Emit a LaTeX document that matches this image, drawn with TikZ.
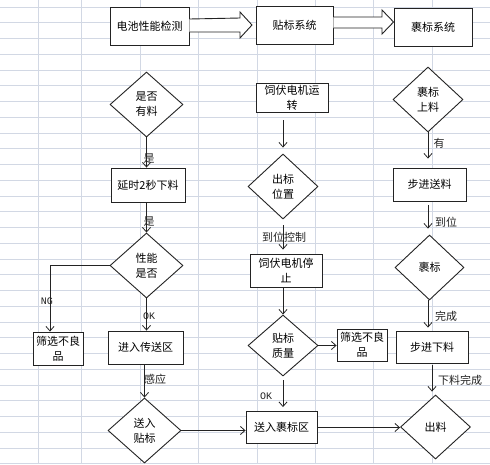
\documentclass[tikz,border=0pt]{standalone}
\usepackage{fontspec}
\setmainfont{Noto Sans CJK SC}
\newfontfamily\latinmono{Liberation Mono}
\usetikzlibrary{shapes.geometric,arrows.meta,calc}
\definecolor{ln}{RGB}{35,35,35}
\definecolor{gridc}{RGB}{210,216,228}
\begin{document}
\begin{tikzpicture}[x=1pt,y=-1pt,
  every node/.style={font=\fontsize{11}{15}\selectfont},
  box/.style={draw=ln, fill=white, line width=0.9pt, inner sep=0pt, align=center},
  dia/.style={diamond, draw=ln, fill=white, line width=0.9pt, inner sep=0pt, align=center},
  arr/.style={draw=ln, line width=0.8pt, -{Straight Barb[length=4.5pt,width=8pt]}},
  lbl/.style={inner sep=0pt, text=ln},
  mono/.style={inner sep=0pt, text=ln, font=\latinmono\fontsize{10}{12}\selectfont},
  blk/.style={draw=ln, fill=white, line width=0.9pt, line join=miter},
  gl/.style={draw=gridc, line width=0.8pt}
]
\useasboundingbox (0,0) rectangle (490,464);
\fill[white] (0,0) rectangle (490,464);
% spreadsheet grid
\foreach \x in {38,81,140,198,257,315,373,432} \draw[gl] (\x,0) -- (\x,464);
\foreach \k in {0,...,29} \draw[gl] (0,{7+15.75*\k}) -- (490,{7+15.75*\k});

% top row
\node[box, minimum width=79pt, minimum height=38pt] (b1) at (149.5,26) {电池性能检测};
\node[box, minimum width=77pt, minimum height=38pt] (b2) at (294.5,25) {贴标系统};
\node[box, minimum width=78pt, minimum height=38pt] (b3) at (433,27) {裹标系统};

% column 1
\node[dia, minimum width=73pt, minimum height=65pt] (d1) at (146.5,104.5) {是否\\有料};
\node[box, minimum width=74pt, minimum height=34pt] (b4) at (148,185) {延时2秒下料};
\node[dia, minimum width=73pt, minimum height=65pt] (d2) at (146.5,265.5) {性能\\是否};
\node[box, minimum width=50pt, minimum height=33pt] (b5) at (58,348.5) {筛选不良\\品};
\node[box, minimum width=75pt, minimum height=33pt] (b6) at (145.5,347.5) {进入传送区};
\node[dia, minimum width=73pt, minimum height=65pt] (d3) at (144.5,430.5) {送入\\贴标};

% column 2
\node[box, minimum width=72pt, minimum height=29pt] (b7) at (292,97.5) {饲伏电机运\\转};
\node[dia, minimum width=70pt, minimum height=65pt] (d4) at (283,186.5) {出标\\位置};
\node[box, minimum width=72pt, minimum height=33pt] (b8) at (286,270.5) {饲伏电机停\\止};
\node[dia, minimum width=70pt, minimum height=61pt] (d5) at (283,345.5) {贴标\\质量};
\node[box, minimum width=50pt, minimum height=32pt] (b9) at (362,345) {筛选不良\\品};
\node[box, minimum width=71pt, minimum height=32pt] (b10) at (281.5,427.5) {送入裹标区};

% column 3
\node[dia, minimum width=70pt, minimum height=65pt] (d6) at (428,99.5) {裹标\\上料};
\node[box, minimum width=73pt, minimum height=33pt] (b11) at (429.5,184.5) {步进送料};
\node[dia, minimum width=69pt, minimum height=65pt] (d7) at (429.5,267.5) {裹标};
\node[box, minimum width=72pt, minimum height=32pt] (b12) at (432,347) {步进下料};
\node[dia, minimum width=70pt, minimum height=64pt] (d8) at (435.5,427) {出料};

% block arrows
\draw[blk] ([yshift=7pt]b1.east) -- (240,18) -- (240,12) -- (252,25) -- (240,38) -- (240,32) -- ([yshift=-6pt]b1.east);
\draw[blk] ([yshift=8pt]b2.east) -- (382,17) -- (382,10) -- (b3.west |- 0,22) -- (382,34) -- (382,28) -- ([yshift=-3pt]b2.east);

% connectors column 1
\draw[arr] (d1.south) -- (d1.south |- b4.north);
\draw[arr] (d1.south |- b4.south) -- (d2.north);
\draw[arr] (d2.west) -| ([xshift=-8pt]b5.north);
\draw[arr] (d2.south) -- (d2.south |- b6.north);
\draw[arr] (d3.north |- b6.south) -- (d3.north);
\draw[arr] (d3.east) -- (d3.east -| b10.west);

% connectors column 2
\draw[arr] ([yshift=-8pt]b7.south -| d4.north) -- ([yshift=6pt]d4.north);
\draw[arr] ([yshift=-6pt]d4.south) -- ([yshift=4pt]d4.south |- b8.north);
\draw[arr] (b8.south -| d5.north) -- (d5.north);
\draw[arr] (d5.east) -- (d5.east -| b9.west);
\draw[arr] ([yshift=-4pt]d5.south) -- ([yshift=4pt]d5.south |- b10.north);
\draw[arr] (b10.east) -- (b10.east -| d8.west);

% connectors column 3
\draw[arr] (d6.south) -- ([yshift=9pt]d6.south |- b11.north);
\draw[arr] ([yshift=-4pt]d6.south |- b11.south) -- ([yshift=6pt]d6.south |- d7.north);
\draw[arr] (d6.south |- d7.south) -- ([yshift=3pt]d6.south |- b12.north);
\draw[arr] ([yshift=-2pt]b12.south) -- ([yshift=3pt]b12.south |- d8.north);

% labels
\node[lbl] (l1) at (149,159) {是};
\node[lbl] (l2) at (149,222) {是};
\node[mono] (l3) at (47,301) {NG};
\node[mono] (l4) at (149,316) {OK};
\node[lbl] (l5) at (155,379) {感应};
\node[lbl] (l6) at (284,237) {到位控制};
\node[mono] (l7) at (266,396) {OK};
\node[lbl] (l8) at (439,143) {有};
\node[lbl] (l9) at (446,222) {到位};
\node[lbl] (l10) at (446,316) {完成};
\node[lbl] (l11) at (460,380) {下料完成};
\end{tikzpicture}
\end{document}
